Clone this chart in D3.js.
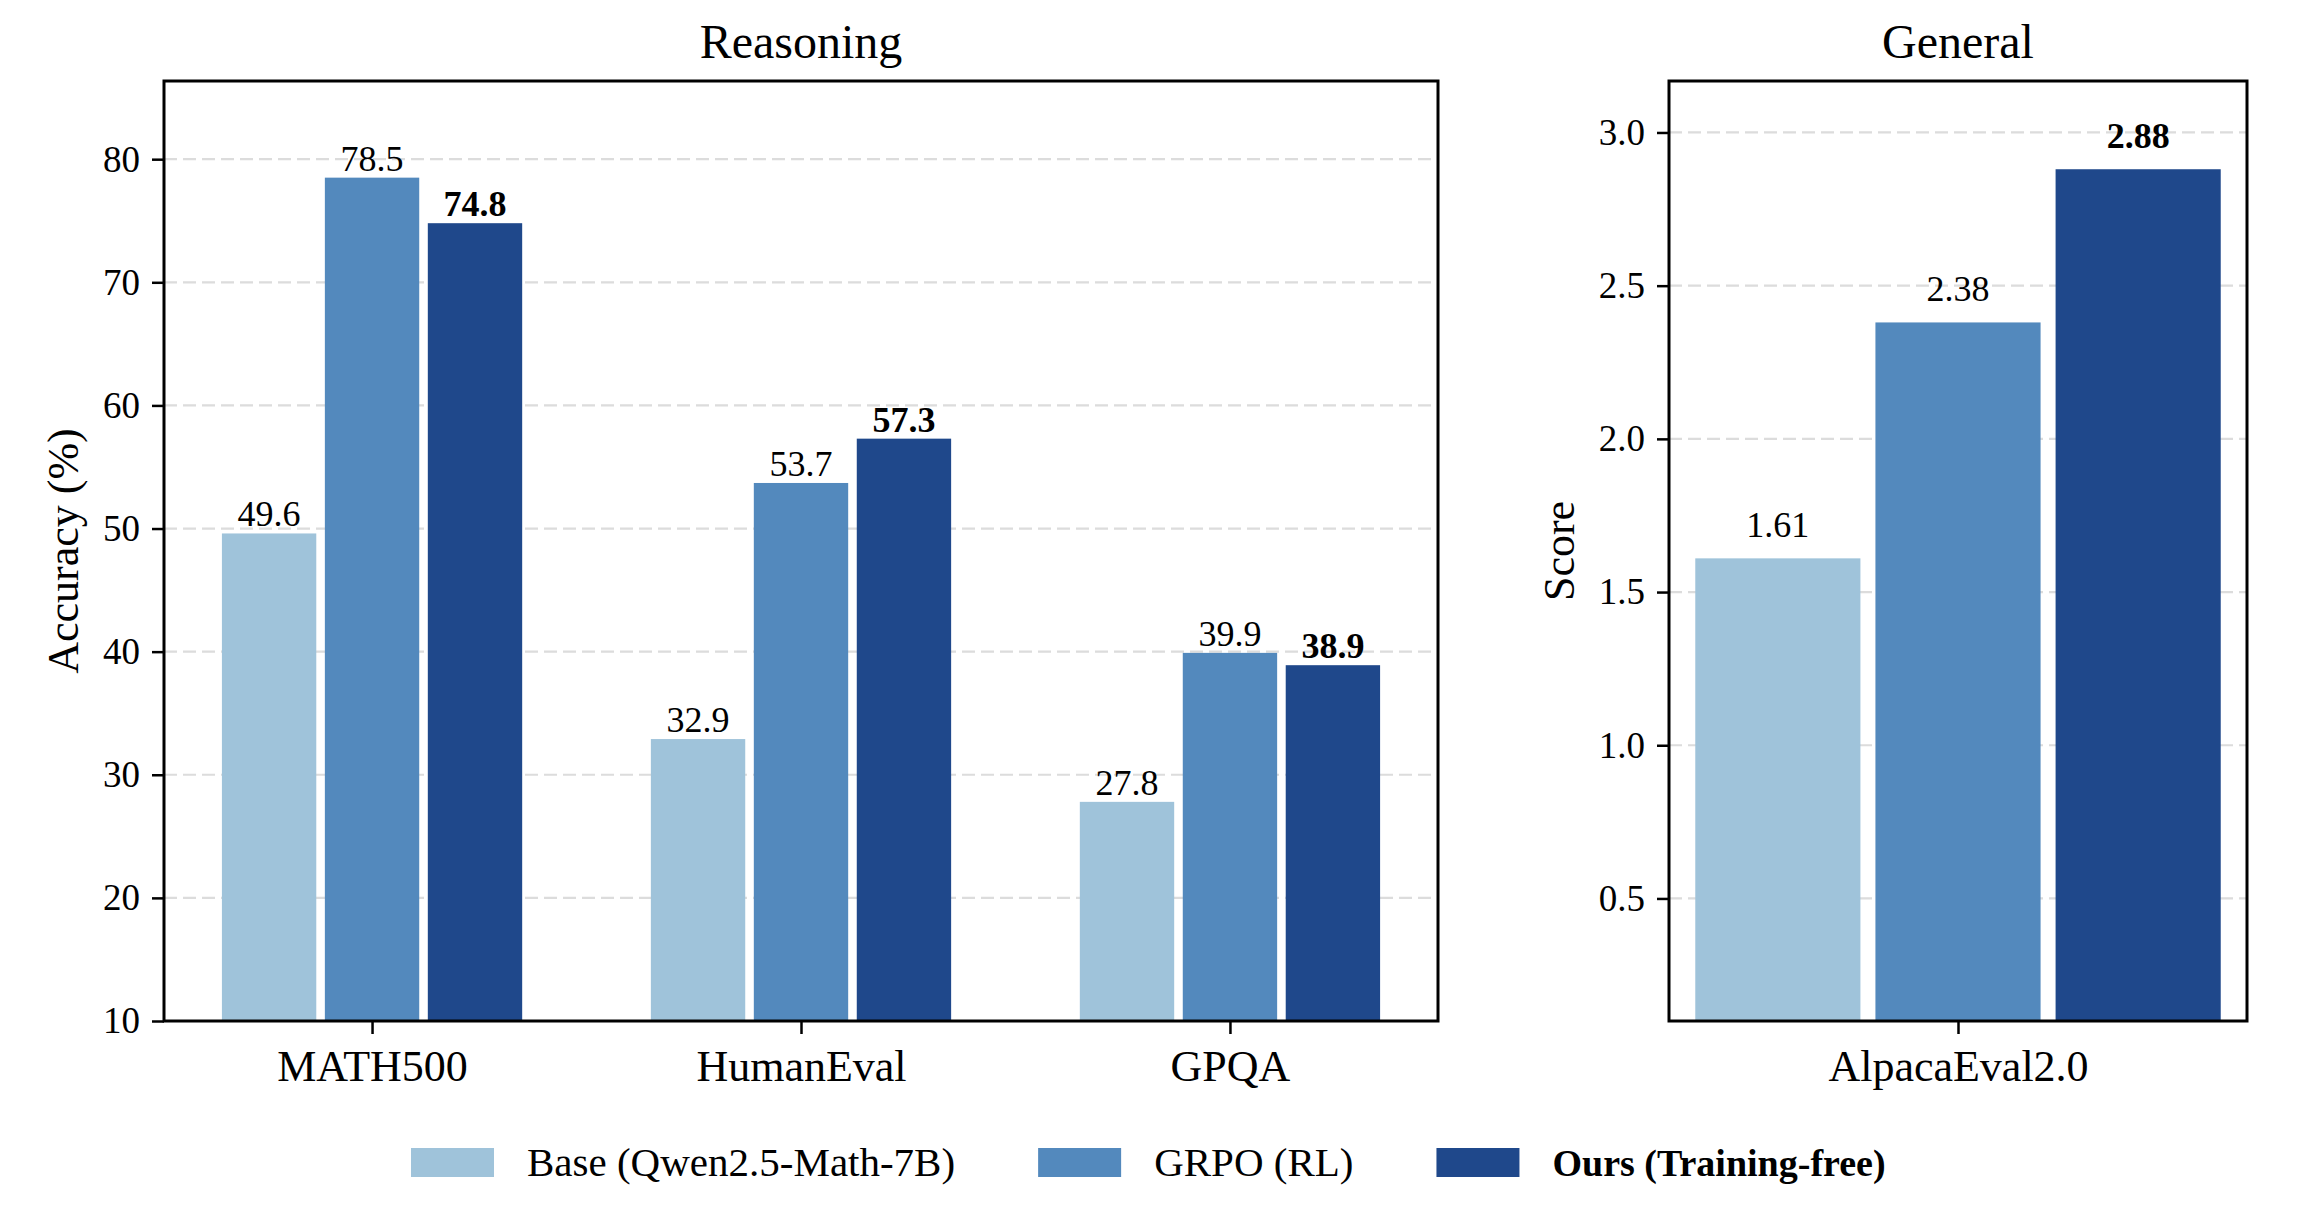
<!DOCTYPE html>
<html><head><meta charset="utf-8">
<script src="https://cdn.jsdelivr.net/npm/d3@7"></script>
<style>body{margin:0;background:#fff}svg{display:block}text{font-family:"Liberation Serif","Times New Roman",serif;fill:#000}</style>
</head><body><svg id="c" width="2302" height="1206"></svg>
<script>
const series = ["Base (Qwen2.5-Math-7B)", "GRPO (RL)", "Ours (Training-free)"];
const colors = ["#9fc3da", "#5389bd", "#1f488b"];
const reasoningCats = ["MATH500", "HumanEval", "GPQA"];
const baseReasoning = [49.6, 32.9, 27.8];
const grpoReasoning = [78.5, 53.7, 39.9];
const oursReasoning = [74.8, 57.3, 38.9];
const generalCats = ["AlpacaEval2.0"];
const baseGeneral = [1.61];
const grpoGeneral = [2.38];
const oursGeneral = [2.88];
const reasoningTicks = [10, 20, 30, 40, 50, 60, 70, 80];
const generalTicks = [0.5, 1.0, 1.5, 2.0, 2.5, 3.0];

const svg = d3.select("#c");
const plotTop = 81, plotBottom = 1021;
const offsets = [-0.24, 0, 0.24], bw = 0.22;

function panel(opt) {
  const g = svg.append("g");
  const n = opt.cats.length;
  const lo = -0.35, hi = (n - 1) + 0.35, m = (hi - lo) * 0.05;
  const x = d3.scaleLinear().domain([lo - m, hi + m]).range([opt.x0, opt.x1]);
  const y = d3.scaleLinear().domain(opt.ydom).range([plotBottom, plotTop]);
  g.selectAll("line.grid").data(opt.ticks.filter(t => y(t) > plotTop + 1 && y(t) < plotBottom - 1)).enter().append("line")
    .attr("x1", opt.x0).attr("x2", opt.x1).attr("y1", d => y(d)).attr("y2", d => y(d))
    .attr("stroke", "#dcdcdc").attr("stroke-width", 2.2).attr("stroke-dasharray", "13,6");
  const vals = [opt.base, opt.grpo, opt.ours];
  vals.forEach((arr, si) => {
    g.selectAll(null).data(arr).enter().append("rect")
      .attr("x", (d, i) => x(i + offsets[si] - bw / 2))
      .attr("width", x(bw) - x(0))
      .attr("y", d => y(d)).attr("height", d => plotBottom - y(d))
      .attr("fill", colors[si]);
    g.selectAll(null).data(arr).enter().append("text")
      .attr("x", (d, i) => x(i + offsets[si]))
      .attr("y", d => y(d) - opt.lpad)
      .attr("text-anchor", "middle").attr("font-size", 36)
      .attr("font-weight", si === 2 ? "bold" : "normal")
      .text(d => d3.format(opt.fmt)(d));
  });
  g.append("rect").attr("x", opt.x0).attr("y", plotTop).attr("width", opt.x1 - opt.x0).attr("height", plotBottom - plotTop)
    .attr("fill", "none").attr("stroke", "#000").attr("stroke-width", 3);
  const ya = d3.axisLeft(y).tickValues(opt.ticks).tickSize(12).tickPadding(12).tickFormat(d3.format(opt.tfmt));
  const yg = g.append("g").attr("transform", `translate(${opt.x0},0)`).call(ya);
  yg.select(".domain").remove();
  yg.selectAll("line").attr("stroke-width", 2.5);
  yg.selectAll("text").attr("font-size", 37).attr("font-family", "Liberation Serif").attr("fill", "#000");
  const xa = d3.axisBottom(x).tickValues(d3.range(n)).tickSize(13).tickPadding(16).tickFormat(i => opt.cats[i]);
  const xg = g.append("g").attr("transform", `translate(0,${plotBottom})`).call(xa);
  xg.select(".domain").remove();
  xg.selectAll("line").attr("stroke-width", 2.5);
  xg.selectAll("text").attr("font-size", 44).attr("font-family", "Liberation Serif").attr("fill", "#000");
  g.append("text").attr("x", (opt.x0 + opt.x1) / 2).attr("y", 58).attr("text-anchor", "middle")
    .attr("font-size", 48).text(opt.title);
  g.append("text").attr("transform", `translate(${opt.lx},${(plotTop + plotBottom) / 2}) rotate(-90)`)
    .attr("text-anchor", "middle").attr("font-size", 44).text(opt.ylabel);
}

panel({cats: reasoningCats, base: baseReasoning, grpo: grpoReasoning, ours: oursReasoning,
  x0: 164, x1: 1438, ydom: [10, 86.35], ticks: reasoningTicks, fmt: ".1f", tfmt: "d",
  title: "Reasoning", ylabel: "Accuracy (%)", lx: 78, lpad: 7});
panel({cats: generalCats, base: baseGeneral, grpo: grpoGeneral, ours: oursGeneral,
  x0: 1669, x1: 2247, ydom: [0.1, 3.168], ticks: generalTicks, fmt: ".2f", tfmt: ".1f",
  title: "General", ylabel: "Score", lx: 1574, lpad: 21});

const lg = svg.append("g");
let lx = 411;
series.forEach((s, i) => {
  lg.append("rect").attr("x", lx).attr("y", 1148).attr("width", 83).attr("height", 29).attr("fill", colors[i]);
  const t = lg.append("text").attr("x", lx + 83 + 33).attr("y", 1176).attr("font-size", i === 2 ? 38 : 41)
    .attr("font-weight", i === 2 ? "bold" : "normal").text(s);
  lx = lx + 83 + 33 + t.node().getComputedTextLength() + 83;
});
</script></body></html>
